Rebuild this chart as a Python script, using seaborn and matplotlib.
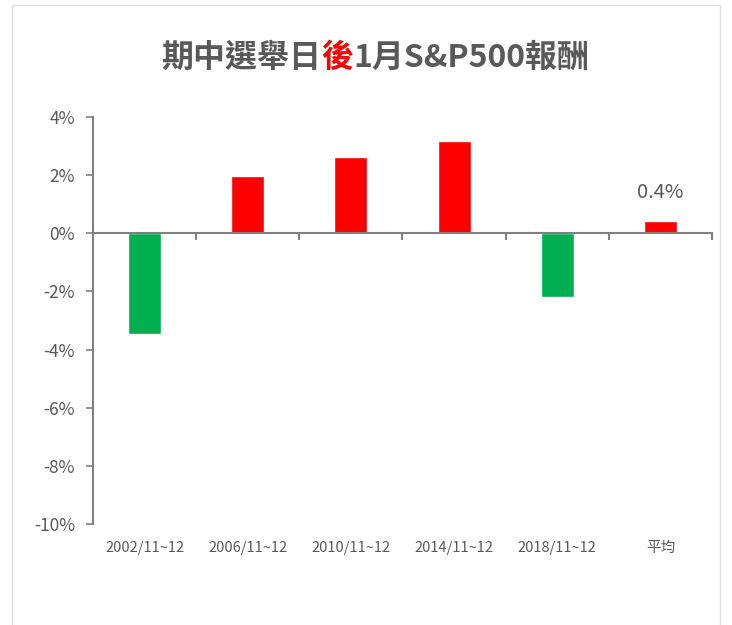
import numpy as np
import pandas as pd
import seaborn as sns
import matplotlib.pyplot as plt
from matplotlib.patches import Rectangle
from matplotlib.offsetbox import TextArea, HPacker, AnchoredOffsetbox
from matplotlib.ticker import FixedLocator, PercentFormatter
import matplotlib.transforms as mtransforms

# data
periods = ["2002/11~12", "2006/11~12", "2010/11~12", "2014/11~12", "2018/11~12", "平均"]
returns = [-3.47, 1.96, 2.61, 3.16, -2.20, 0.41]
avg_label = "0.4%"

RED = "#FF0000"
GREEN = "#00B050"
GRAY = "#595959"
AXIS = "#808080"

sns.set_style("white")
plt.rcParams["font.family"] = ["Noto Sans CJK TC", "DejaVu Sans"]
plt.rcParams["axes.unicode_minus"] = False

df = pd.DataFrame({"period": periods, "ret": returns})
colors = {p: (RED if r >= 0 else GREEN) for p, r in zip(periods, returns)}

fig = plt.figure(figsize=(7.32, 6.25), dpi=100)
ax = fig.add_axes([93 / 732, 1 - 524 / 625, (712 - 93) / 732, (524 - 117) / 625])

sns.barplot(data=df, x="period", y="ret", hue="period", palette=colors,
            width=0.32, legend=False, ax=ax, saturation=1)

ax.set_ylim(-10, 4)
ax.set_xlim(-0.5, len(periods) - 0.5)
ax.set_yticks(np.arange(-10, 5, 2))
ax.yaxis.set_major_formatter(PercentFormatter(decimals=0))
ax.tick_params(axis="y", length=5, width=1.2, color=AXIS, labelcolor=GRAY,
               labelsize=12.5, pad=8, left=True)
ax.set_xlabel("")
ax.set_ylabel("")

# x axis line sits at 0, with boundary ticks
for s in ["top", "right"]:
    ax.spines[s].set_visible(False)
ax.spines["left"].set_color(AXIS)
ax.spines["left"].set_linewidth(1.5)
ax.spines["bottom"].set_position(("data", 0))
ax.spines["bottom"].set_color(AXIS)
ax.spines["bottom"].set_linewidth(1.5)
ax.xaxis.set_major_locator(FixedLocator(np.arange(len(periods))))
ax.xaxis.set_minor_locator(FixedLocator(np.arange(len(periods)) + 0.5))
ax.tick_params(axis="x", which="major", length=0, labelbottom=False)
ax.tick_params(axis="x", which="minor", length=5, width=1.5, color=AXIS,
               direction="out", bottom=True)

# category labels under the plot area
trans = mtransforms.blended_transform_factory(ax.transData, ax.transAxes)
for i, p in enumerate(periods):
    ax.text(i, -0.06, p, transform=trans, ha="center", va="center",
            fontsize=10.5, color=GRAY)

# data label on the average bar
ax.text(len(periods) - 1, returns[-1] + 1.0, avg_label, ha="center", va="center",
        fontsize=14.5, color=GRAY)

# title with one red character
tp = dict(fontsize=23, color=GRAY, family=["Noto Sans CJK TC", "DejaVu Sans"],
          weight="bold")
tp_red = dict(tp, color=RED)
title_box = HPacker(children=[TextArea("期中選舉日", textprops=tp),
                              TextArea("後", textprops=tp_red),
                              TextArea("1月S&P500報酬", textprops=tp)],
                    align="baseline", pad=0, sep=0)
anchored = AnchoredOffsetbox(loc="center", child=title_box, frameon=False,
                             bbox_to_anchor=(375 / 732, 1 - 58 / 625),
                             bbox_transform=fig.transFigure, borderpad=0)
fig.add_artist(anchored)

# light chart frame
fig.add_artist(Rectangle((12 / 732, -0.02), (720 - 12) / 732, 1.02 - 5 / 625,
                         transform=fig.transFigure, fill=False,
                         edgecolor="#E0E0E0", linewidth=1))

fig.savefig("out.png", dpi=100)
